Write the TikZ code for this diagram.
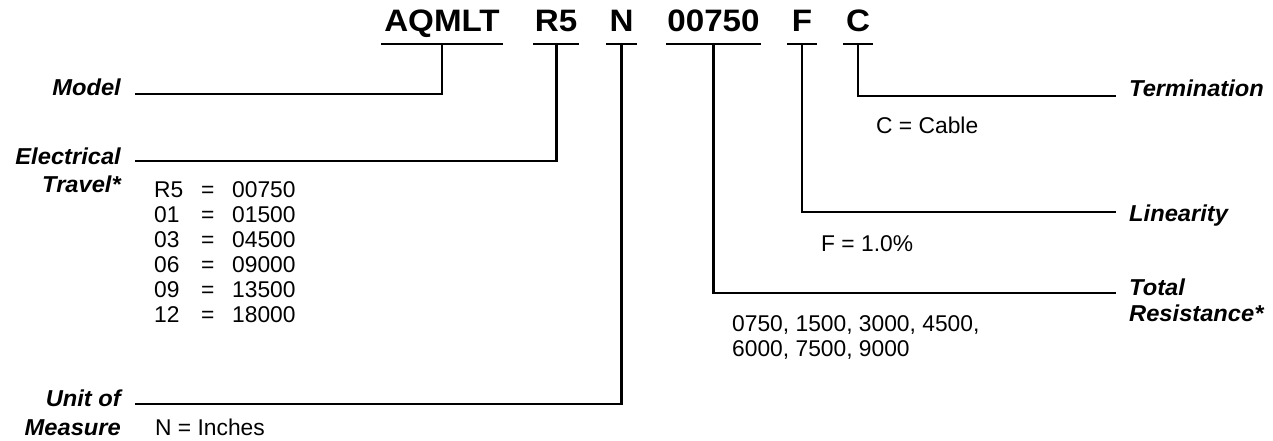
\documentclass[tikz,border=0pt]{standalone}
\usepackage{fontspec}
\setmainfont{Liberation Sans}
\newfontfamily\ttlfont{Liberation Sans}[FakeStretch=1.07]
\newfontfamily\lblfont{Liberation Sans}[FakeStretch=1.03]
\newfontfamily\bodyfont{Liberation Sans}[FakeStretch=1.0]
\begin{document}
\begin{tikzpicture}[x=1pt,y=-1pt,
  code/.style={font=\ttlfont\bfseries\fontsize{31}{31}\selectfont, inner sep=0pt, anchor=base},
  lbl/.style={font=\lblfont\bfseries\itshape\fontsize{23}{26}\selectfont, inner sep=0pt},
  lbll/.style={lbl, anchor=base east},
  lblr/.style={lbl, anchor=base west},
  body/.style={font=\bodyfont\fontsize{22.8}{28}\selectfont, inner sep=0pt, anchor=base west},
  ln/.style={line width=2.5pt}]
\useasboundingbox (0,0) rectangle (1273,441);
% codes
\node[code] (cA) at (442,32) {AQMLT};
\node[code] (cR) at (556,32) {R5};
\node[code] (cN) at (621.5,32) {N};
\node[code] (cO) at (713.5,32) {00750};
\node[code] (cF) at (802,32) {F};
\node[code] (cC) at (858,32) {C};
% underline coordinates
\coordinate (uA1) at (381,44); \coordinate (uA2) at (503,44); \coordinate (uA) at (442,44);
\coordinate (uR1) at (533,44); \coordinate (uR2) at (579,44); \coordinate (uR) at (556.5,44);
\coordinate (uN1) at (606,44); \coordinate (uN2) at (637,44); \coordinate (uN) at (621.5,44);
\coordinate (uO1) at (666,44); \coordinate (uO2) at (761,44); \coordinate (uO) at (713.5,44);
\coordinate (uF1) at (787,44); \coordinate (uF2) at (817,44); \coordinate (uF) at (802,44);
\coordinate (uC1) at (843,44); \coordinate (uC2) at (873,44); \coordinate (uC) at (858,44);
\foreach \k in {A,R,N,O,F,C} \draw[ln] (u\k1) -- (u\k2);
% line ends
\coordinate (eM) at (135,94);
\coordinate (eE) at (135,161);
\coordinate (eU) at (135,404);
\coordinate (eT) at (1116,96);
\coordinate (eL) at (1116,212);
\coordinate (eR) at (1116,293);
\draw[ln] (uA) |- (eM);
\draw[ln] (uR) |- (eE);
\draw[ln] (uN) |- (eU);
\draw[ln] (uC) |- (eT);
\draw[ln] (uF) |- (eL);
\draw[ln] (uO) |- (eR);
% left labels
\node[lbll] (lModel) at (121,96) {Model};
\node[lbll] (lElec) at (121,164) {Electrical};
\node[lbll] (lTrav) at (121,192) {Travel*};
\node[lbll] (lUnit) at (121,406) {Unit of};
\node[lbll] (lMeas) at (121,435) {Measure};
% right labels
\node[lblr] (lTerm) at (1129,97) {Termination};
\node[lblr] (lLin) at (1129,221) {Linearity};
\node[lblr] (lTot) at (1129,295) {Total};
\node[lblr] (lRes) at (1129,321) {Resistance*};
% body texts
\node[body] (r1) at (154,197) {\makebox[47pt][l]{R5}\makebox[31pt][l]{=}00750};
\node[body] (r2) at (154,222) {\makebox[47pt][l]{01}\makebox[31pt][l]{=}01500};
\node[body] (r3) at (154,247) {\makebox[47pt][l]{03}\makebox[31pt][l]{=}04500};
\node[body] (r4) at (154,272) {\makebox[47pt][l]{06}\makebox[31pt][l]{=}09000};
\node[body] (r5) at (154,297) {\makebox[47pt][l]{09}\makebox[31pt][l]{=}13500};
\node[body] (r6) at (154,322) {\makebox[47pt][l]{12}\makebox[31pt][l]{=}18000};
\node[body] (tN) at (155,435) {N = Inches};
\node[body] (tC) at (876,133) {C = Cable};
\node[body] (tF) at (821,251) {F = 1.0\%};
\node[body] (tV1) at (732,331) {0750, 1500, 3000, 4500,};
\node[body] (tV2) at (732,356) {6000, 7500, 9000};
\end{tikzpicture}
\end{document}
